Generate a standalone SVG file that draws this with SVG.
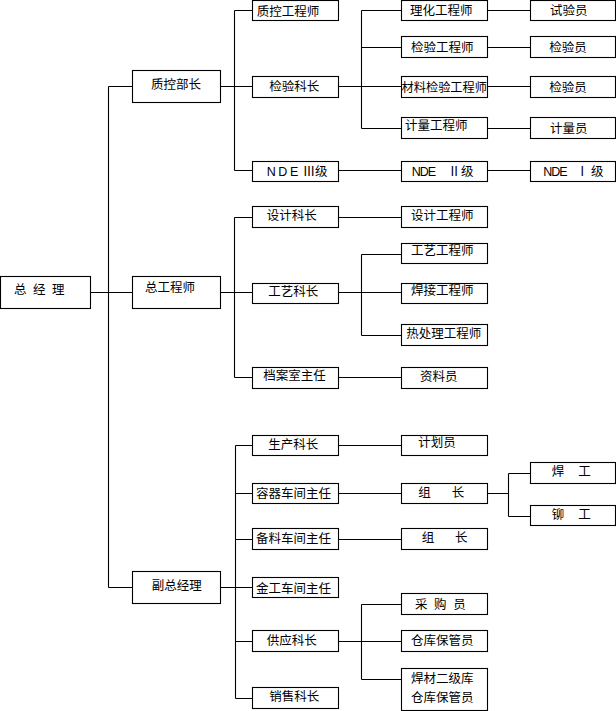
<svg xmlns="http://www.w3.org/2000/svg" width="616" height="711" viewBox="0 0 616 711">
<style>
rect{fill:#fff;stroke:#000;stroke-width:1.1}
text{font-family:"Liberation Sans","Noto Sans CJK SC",sans-serif;font-size:12.5px;fill:#000}
.c path{fill:none;stroke:#000;stroke-width:1.1}
</style>
<rect x="0" y="0" width="616" height="711" style="stroke:none"/>
<g class="c" id="connectors">
<path d="M90,292.5H132M108.5,86.5V587.5M108.5,86.5H132M108.5,587.5H132"/>
<path d="M220,86.5H252M234.5,10.5V170.5M234.5,10.5H252M234.5,170.5H252"/>
<path d="M338,86.5H401M361.5,10.5V128.5M361.5,10.5H401M361.5,47.5H401M361.5,128.5H401"/>
<path d="M487,10.5H530M487,47.5H530M487,86.5H530M487,128.5H530"/>
<path d="M338,170.5H401M487,170.5H530"/>
<path d="M220,292.5H252M234.5,217.5V377.5M234.5,217.5H252M234.5,377.5H252"/>
<path d="M338,217.5H401M338,292.5H401M361.5,254.5V335.5M361.5,254.5H401M361.5,335.5H401M338,377.5H401"/>
<path d="M220,587.5H252M235.5,445.5V698.5M235.5,445.5H252M235.5,493.5H252M235.5,539.5H252M235.5,641.5H252M235.5,698.5H252"/>
<path d="M338,445.5H401M338,493.5H401M338,539.5H401"/>
<path d="M487,493.5H508.5M508.5,473.5V516.5M508.5,473.5H530M508.5,516.5H530"/>
<path d="M338,641.5H401M361.5,604.5V679.5M361.5,604.5H401M361.5,679.5H401"/>
</g>
<g id="n-zjl"><rect x="0.5" y="276.5" width="90" height="32"/><text x="14 33 52" y="294">总经理</text></g>
<g id="n-zkbz"><rect x="132.5" y="70.5" width="88" height="32"/><text x="151" y="89">质控部长</text></g>
<g id="n-zgcs"><rect x="132.5" y="276.5" width="88" height="32"/><text x="145" y="292">总工程师</text></g>
<g id="n-fzjl"><rect x="132.5" y="571.5" width="88" height="32"/><text x="151.7" y="590.3">副总经理</text></g>
<g id="n-zkgcs"><rect x="252.5" y="0.5" width="86" height="20"/><text x="256.7" y="15.8">质控工程师</text></g>
<g id="n-jykz"><rect x="252.5" y="76.5" width="86" height="21"/><text x="269.3" y="91">检验科长</text></g>
<g id="n-nde3"><rect x="252.5" y="161.5" width="86" height="20"/><text x="266.7 278.3 290 302.7 315" y="175.7">NDEⅢ级</text></g>
<g id="n-sjkz"><rect x="252.5" y="206.5" width="86" height="21"/><text x="266.7" y="219.5">设计科长</text></g>
<g id="n-gykz"><rect x="252.5" y="283.5" width="86" height="20"/><text x="268.3" y="295.7">工艺科长</text></g>
<g id="n-dazr"><rect x="252.5" y="367.5" width="86" height="21"/><text x="263.3" y="380.3">档案室主任</text></g>
<g id="n-sckz"><rect x="252.5" y="435.5" width="86" height="20"/><text x="268.3" y="448.7">生产科长</text></g>
<g id="n-rqzr"><rect x="252.5" y="483.5" width="86" height="20"/><text x="256" y="498">容器车间主任</text></g>
<g id="n-blzr"><rect x="252.5" y="528.5" width="86" height="21"/><text x="256" y="543.3">备料车间主任</text></g>
<g id="n-jgzr"><rect x="252.5" y="577.5" width="86" height="20"/><text x="256" y="592.5">金工车间主任</text></g>
<g id="n-gykz2"><rect x="252.5" y="630.5" width="86" height="21"/><text x="266.7" y="644.5">供应科长</text></g>
<g id="n-xskz"><rect x="252.5" y="687.5" width="86" height="21"/><text x="269.3" y="701.2">销售科长</text></g>
<g id="n-lhgcs"><rect x="401.5" y="0.5" width="86" height="20"/><text x="410" y="14.8">理化工程师</text></g>
<g id="n-jygcs"><rect x="401.5" y="36.5" width="86" height="21"/><text x="411" y="51.5">检验工程师</text></g>
<g id="n-cljygcs"><rect x="401.5" y="76.5" width="86" height="21"/><text x="401.5" y="91.5" textLength="85.5" lengthAdjust="spacingAndGlyphs">材料检验工程师</text></g>
<g id="n-jlgcs"><rect x="401.5" y="117.5" width="86" height="21"/><text x="405" y="130">计量工程师</text></g>
<g id="n-nde2"><rect x="401.5" y="161.5" width="86" height="20"/><text x="411.7 419.7 427.7 448 461" y="175.5">NDEⅡ级</text></g>
<g id="n-sjgcs"><rect x="401.5" y="206.5" width="86" height="21"/><text x="411" y="220.3">设计工程师</text></g>
<g id="n-gygcs"><rect x="401.5" y="243.5" width="86" height="20"/><text x="411" y="254.5">工艺工程师</text></g>
<g id="n-hjgcs"><rect x="401.5" y="283.5" width="86" height="20"/><text x="411" y="294.7">焊接工程师</text></g>
<g id="n-rclgcs"><rect x="401.5" y="324.5" width="86" height="21"/><text x="406.3" y="338">热处理工程师</text></g>
<g id="n-zly"><rect x="401.5" y="367.5" width="86" height="21"/><text x="420" y="380.7">资料员</text></g>
<g id="n-jhy"><rect x="401.5" y="435.5" width="86" height="20"/><text x="418.3" y="447">计划员</text></g>
<g id="n-zz1"><rect x="401.5" y="483.5" width="86" height="20"/><text x="418.3 451.7" y="497">组长</text></g>
<g id="n-zz2"><rect x="401.5" y="528.5" width="86" height="21"/><text x="421.7 455" y="542">组长</text></g>
<g id="n-cgy"><rect x="401.5" y="593.5" width="86" height="21"/><text x="415 434 453.3" y="608.7">采购员</text></g>
<g id="n-ckbgy"><rect x="401.5" y="630.5" width="86" height="21"/><text x="411" y="645.3">仓库保管员</text></g>
<g id="n-hcejk"><rect x="401.5" y="668.5" width="86" height="42"/><text x="411" y="682.5">焊材二级库</text><text x="411" y="702">仓库保管员</text></g>
<g id="n-syy"><rect x="530.5" y="0.5" width="85" height="20"/><text x="550" y="14.8">试验员</text></g>
<g id="n-jyy1"><rect x="530.5" y="36.5" width="85" height="21"/><text x="549.3" y="51.5">检验员</text></g>
<g id="n-jyy2"><rect x="530.5" y="76.5" width="85" height="21"/><text x="549.3" y="91.5">检验员</text></g>
<g id="n-jly"><rect x="530.5" y="117.5" width="85" height="21"/><text x="550" y="133.3">计量员</text></g>
<g id="n-nde1"><rect x="530.5" y="161.5" width="85" height="20"/><text x="543.3 551.3 559.3 576 591" y="175.5">NDEⅠ级</text></g>
<g id="n-hg"><rect x="530.5" y="462.5" width="85" height="21"/><text x="551.7 578.3" y="475.8">焊工</text></g>
<g id="n-mg"><rect x="530.5" y="505.5" width="85" height="20"/><text x="551.7 578.3" y="518.7">铆工</text></g>
</svg>
